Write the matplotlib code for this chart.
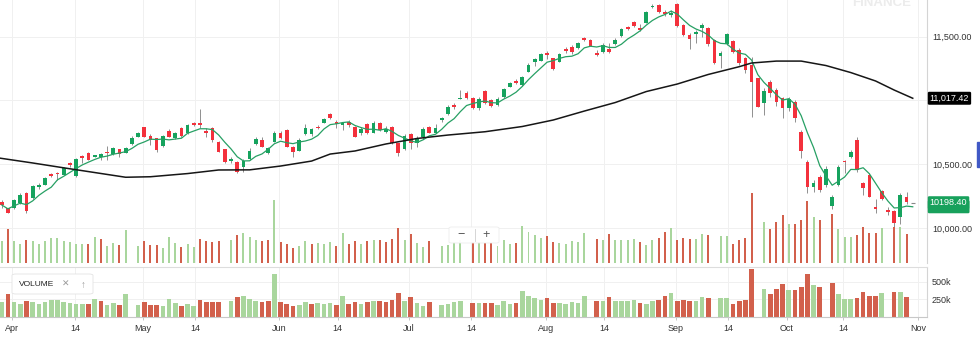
import numpy as np
import pandas as pd
import matplotlib
matplotlib.use("Agg")
import matplotlib.pyplot as plt
import matplotlib.transforms as mtransforms
from matplotlib.patches import FancyBboxPatch, Rectangle
from matplotlib.lines import Line2D

plt.rcParams["font.family"] = ["Liberation Sans", "DejaVu Sans"]

# daily OHLC, one entry per session (last one is the live, still-flat session)
opens = [10206, 10154, 10154, 10193, 10277, 10233, 10319, 10337, 10423, 10434,
         10416, 10507, 10408, 10565, 10585, 10559, 10559, 10598, 10580, 10617,
         10591, 10656, 10716, 10790, 10724, 10703, 10643, 10761, 10703, 10787,
         10742, 10821, 10821, 10763, 10782, 10677, 10617, 10523, 10520, 10476,
         10539, 10656, 10690, 10585, 10677, 10742, 10768, 10638, 10606, 10736,
         10737, 10795, 10826, 10891, 10834, 10805, 10834, 10795, 10742, 10813,
         10748, 10826, 10753, 10790, 10664, 10617, 10735, 10669, 10716, 10790,
         10748, 10847, 10894, 10962, 11012, 11056, 11019, 10938, 11074, 11004,
         10965, 11025, 11108, 11155, 11121, 11226, 11302, 11312, 11370, 11331,
         11305, 11401, 11422, 11409, 11490, 11474, 11375, 11383, 11401, 11440,
         11506, 11574, 11618, 11571, 11610, 11731, 11749, 11697, 11670, 11757,
         11592, 11513, 11519, 11566, 11571, 11474, 11349, 11443, 11466, 11396,
         11331, 11278, 11174, 10978, 11148, 11082, 11017, 10938, 10991, 10755,
         10520, 10319, 10402, 10337, 10173, 10337, 10528, 10554, 10690, 10350,
         10416, 10162, 10290, 10141, 10136, 10084, 10246, 10198.4]
highs = [10220, 10160, 10225, 10272, 10282, 10337, 10355, 10398, 10434, 10442,
         10481, 10520, 10546, 10572, 10596, 10575, 10585, 10643, 10638, 10622,
         10638, 10722, 10755, 10795, 10735, 10708, 10730, 10774, 10755, 10792,
         10815, 10834, 10931, 10782, 10790, 10682, 10622, 10559, 10525, 10539,
         10625, 10711, 10716, 10638, 10763, 10763, 10774, 10643, 10703, 10816,
         10787, 10805, 10860, 10899, 10847, 10834, 10847, 10800, 10795, 10826,
         10842, 10834, 10800, 10800, 10670, 10735, 10748, 10722, 10790, 10800,
         10816, 10873, 10965, 10978, 11082, 11077, 11025, 11025, 11082, 11014,
         11025, 11095, 11142, 11166, 11192, 11291, 11331, 11375, 11391, 11336,
         11375, 11422, 11435, 11461, 11500, 11482, 11396, 11448, 11453, 11487,
         11566, 11584, 11626, 11600, 11702, 11757, 11757, 11710, 11710, 11767,
         11597, 11527, 11553, 11605, 11579, 11479, 11391, 11527, 11474, 11409,
         11338, 11344, 11180, 11095, 11161, 11095, 11030, 11030, 11004, 10768,
         10533, 10376, 10416, 10486, 10259, 10494, 10533, 10611, 10711, 10363,
         10429, 10225, 10298, 10167, 10141, 10277, 10285, 10198.4]
lows = [10154, 10115, 10150, 10190, 10120, 10230, 10303, 10335, 10397, 10376,
        10412, 10481, 10400, 10507, 10530, 10555, 10533, 10533, 10575, 10559,
        10585, 10651, 10712, 10710, 10651, 10599, 10638, 10712, 10698, 10716,
        10738, 10803, 10782, 10716, 10677, 10594, 10507, 10507, 10429, 10442,
        10535, 10650, 10633, 10580, 10672, 10698, 10633, 10559, 10600, 10730,
        10722, 10780, 10820, 10852, 10782, 10768, 10795, 10710, 10729, 10737,
        10742, 10763, 10742, 10659, 10565, 10612, 10617, 10638, 10695, 10745,
        10744, 10834, 10890, 10931, 11009, 11009, 10930, 10925, 10972, 10952,
        10960, 11020, 11103, 11130, 11116, 11221, 11270, 11308, 11323, 11239,
        11300, 11375, 11365, 11404, 11466, 11425, 11349, 11370, 11370, 11435,
        11500, 11553, 11579, 11548, 11605, 11723, 11689, 11663, 11652, 11579,
        11506, 11401, 11448, 11500, 11427, 11286, 11252, 11438, 11370, 11278,
        11213, 10873, 10946, 10886, 11030, 10957, 10860, 10920, 10834, 10546,
        10272, 10285, 10285, 10324, 10147, 10330, 10429, 10546, 10442, 10259,
        10240, 10115, 10220, 10102, 10011, 10032, 10188, 10198.4]
closes = [10181, 10120, 10220, 10259, 10136, 10329, 10337, 10390, 10410, 10423,
          10468, 10491, 10539, 10552, 10533, 10572, 10578, 10585, 10625, 10580,
          10627, 10703, 10748, 10716, 10690, 10612, 10722, 10716, 10748, 10722,
          10808, 10808, 10805, 10748, 10690, 10599, 10520, 10544, 10442, 10525,
          10604, 10695, 10638, 10625, 10742, 10703, 10638, 10599, 10690, 10782,
          10774, 10782, 10855, 10860, 10816, 10821, 10808, 10716, 10776, 10748,
          10826, 10769, 10774, 10669, 10591, 10721, 10664, 10708, 10774, 10748,
          10782, 10860, 10952, 10946, 11022, 11022, 10938, 11014, 10983, 10957,
          11012, 11087, 11135, 11135, 11182, 11278, 11323, 11362, 11357, 11244,
          11365, 11388, 11383, 11453, 11474, 11430, 11357, 11435, 11383, 11474,
          11558, 11561, 11584, 11553, 11697, 11744, 11697, 11678, 11688, 11584,
          11513, 11480, 11540, 11592, 11443, 11291, 11375, 11521, 11383, 11291,
          11239, 11148, 10952, 11077, 11056, 10991, 10938, 11009, 10860, 10606,
          10324, 10355, 10298, 10460, 10240, 10481, 10518, 10598, 10455, 10311,
          10246, 10147, 10225, 10126, 10042, 10259, 10207, 10198.4]

# volume in thousands; None where the feed has no volume for the session
volume_k = [211, 330, 211, 188, 222, 211, 188, 211, 240, 240,
            211, 202, 185, 188, 188, 250, 230, 165, 197, 174,
            321, None, 165, 216, 174, 174, 150, 259, 197, 155,
            185, 160, 235, 216, 207, 211, None, 225, 278, 292,
            250, 221, 211, 225, 614, 207, 185, 150, 169, 211,
            188, 197, 185, 202, 169, 292, 185, 211, 185, 211,
            225, 225, 207, 235, 340, 225, 283, 192, 155, 211,
            None, 169, 178, 207, 225, None, 202, 202, 197, 197,
            165, 221, 188, 192, 363, 301, 273, 240, 264, 202,
            192, 188, 211, 202, 292, None, 230, 221, 283, 221,
            221, 221, 235, 202, 178, 225, 240, 301, 340, 221,
            240, 230, 230, 283, 273, None, 264, 264, 188, 225,
            240, 685, None, 400, 330, 400, 472, 378, 378, 425,
            605, 449, 425, None, 481, 330, 250, 250, 273, 354,
            297, 297, 340, None, 354, 354, 283, None]
# g = close above previous close, r = below, - = no volume
volume_dir = ("grggrggggg" "ggggrgrggr" "g-grrrgggr" "ggrrrr-grg" "ggrrgrrrgg"
              "rgggrgrrgr" "grrrrgrggr" "-gggg-rgrr" "gggrggggrr" "ggggg-rgrg"
              "gggrggrrgr" "rrggr-ggrr" "rr-grrrgrr" "rgr-rgggrr" "rrg-rgr-")

# long moving average, sampled along the session index
ma_long_at = [-0.3, 5, 10, 15, 20, 24, 30, 35, 40, 45, 50, 53, 57, 62, 67, 72,
              78, 84, 89, 94, 99, 104, 109, 114, 119, 121, 125, 129, 133, 137,
              141, 144, 147]
ma_long = [10548, 10510, 10472, 10435, 10398, 10402, 10427, 10455, 10456, 10486,
           10525, 10580, 10604, 10659, 10702, 10729, 10755, 10796, 10847, 10917,
           10984, 11070, 11129, 11204, 11265, 11294, 11309, 11309, 11274, 11219,
           11153, 11082, 11017.42]

price_ticks = [10000, 10500, 11000, 11500]
price_tick_labels = ["10,000.00", "10,500.00", "", "11,500.00"]
tick_labels = ["Apr", "14", "May", "14", "Jun", "14", "Jul", "14",
               "Aug", "14", "Sep", "14", "Oct", "14", "Nov"]
tick_pos = [1.74, 11.83, 22.8, 31.2, 44.75, 54.2, 65.7, 75.7,
            87.8, 97.2, 108.8, 117.2, 126.7, 135.8, 147.9]

UP = "#16a35e"
DOWN = "#f3313c"
WICK = "#7d7d7d"
VOL_UP = "#a9d69d"
VOL_DOWN = "#d2604c"
SMA_COLOR = "#27a064"
GRID = "#f0f0f0"
EDGE = "#d4d4d4"

o = np.array(opens, dtype=float)
h = np.array(highs, dtype=float)
l = np.array(lows, dtype=float)
c = np.array(closes, dtype=float)
vol = np.array(volume_k, dtype=float)
xs = np.arange(len(c))
sma5 = pd.Series(c).rolling(5, min_periods=1).mean().to_numpy()
up_vol = np.array([d == "g" for d in volume_dir])
vol_colors = np.where(up_vol, VOL_UP, VOL_DOWN)

W, H = 980, 343
fig = plt.figure(figsize=(W / 100, H / 100), dpi=100)
fig.patch.set_facecolor("white")

XLIM = (-0.274, 149.3)
ax = fig.add_axes([0, 1 - 263 / H, 927 / W, 263 / H])
axv = fig.add_axes([0, 1 - 317 / H, 927 / W, 50 / H])

# thin volume overlay along the bottom of the price panel
ov = ax.twinx()
ov.set_ylim(0, 2573)
ov.axis("off")
ov.bar(xs, vol, width=0.32, color=vol_colors, lw=0)

# ---- price panel ----
ax.set_xlim(*XLIM)
ax.set_ylim(9725.6, 11788)
for side in ("top", "left", "bottom"):
    ax.spines[side].set_visible(False)
ax.spines["right"].set_color(EDGE)
ax.spines["right"].set_linewidth(0.8)
ax.yaxis.tick_right()
ax.set_yticks(price_ticks)
ax.set_yticklabels(price_tick_labels)
ax.tick_params(axis="y", left=False, labelleft=False, right=True, labelright=True,
               length=0, pad=3.6, labelsize=6.5, labelcolor="#333333")
ax.set_xticks(tick_pos)
ax.tick_params(axis="x", length=0, labelbottom=False)
ax.grid(True, color=GRID, lw=0.7)
ax.set_axisbelow(True)

# candles
ax.vlines(xs, l, h, color=WICK, lw=0.6, zorder=2)
body_lo = np.minimum(o, c)
body_hi = np.maximum(o, c)
body_col = np.where(c >= o, UP, DOWN)
flat = body_hi - body_lo < 1
ax.bar(xs[~flat], (body_hi - body_lo)[~flat], bottom=body_lo[~flat], width=0.6,
       color=body_col[~flat], lw=0, zorder=2.5)
ax.hlines(c[flat], xs[flat] - 0.3, xs[flat] + 0.3, color="#888888", lw=0.8, zorder=2.5)

ax.plot(xs, sma5, color=SMA_COLOR, lw=0.9, zorder=3)
ax.plot(ma_long_at, ma_long, color="#161616", lw=1.1, zorder=3)

# value flags on the right edge
blend = mtransforms.blended_transform_factory(ax.transAxes, ax.transData)
flag = dict(transform=blend, ha="left", va="center", fontsize=6.5, color="white",
            clip_on=False)
ax.text(1.003, sma5[-1], f"{sma5[-1]:.2f}", zorder=6,
        bbox=dict(boxstyle="round,pad=0.22,rounding_size=0.15", fc="#18a15c", ec="none"),
        **flag)
ax.text(1.003, c[-1], f"{c[-1]:.2f}", zorder=7,
        bbox=dict(boxstyle="round,pad=0.22,rounding_size=0.15", fc="#18a15c", ec="none"),
        **flag)
ax.text(1.003, ma_long[-1], f"{ma_long[-1]:,.2f}", zorder=7,
        bbox=dict(boxstyle="round,pad=0.22,rounding_size=0.15", fc="#000000", ec="none"),
        **flag)

# ---- volume panel ----
axv.set_xlim(*XLIM)
axv.set_ylim(0, 709)
axv.bar(xs, vol, width=0.75, color=vol_colors, lw=0)
axv.spines["left"].set_visible(False)
axv.spines["top"].set_color("#dddddd")
axv.spines["bottom"].set_color("#c8c8c8")
axv.spines["right"].set_color(EDGE)
for s in axv.spines.values():
    s.set_linewidth(0.8)
axv.yaxis.tick_right()
axv.set_yticks([250, 500])
axv.set_yticklabels(["250k", "500k"])
axv.tick_params(axis="y", length=0, pad=3.4, labelsize=6.5, labelcolor="#333333")
axv.set_xticks(tick_pos)
axv.set_xticklabels(tick_labels)
axv.tick_params(axis="x", length=1.8, width=0.6, color="#bbbbbb", pad=3.0,
                labelsize=6.5, labelcolor="#333333")
axv.grid(True, color=GRID, lw=0.7)
axv.set_axisbelow(True)


def fx(px):
    return px / W


def fy(py):
    return 1 - py / H


# indicator tag in the volume panel
fig.add_artist(FancyBboxPatch((fx(12), fy(294)), fx(81), 20 / H,
                              boxstyle="round,pad=0,rounding_size=0.004",
                              transform=fig.transFigure, fc="white", ec="#e3e3e3",
                              lw=0.6, zorder=5))
fig.text(fx(19), fy(284.5), "VOLUME", fontsize=6, color="#222222", va="center", zorder=6)
fig.text(fx(66), fy(284.5), "\u2715", fontsize=6.5, color="#9a9a9a", va="center",
         ha="center", zorder=6)
fig.text(fx(83), fy(284.5), "\u2191", fontsize=7, color="#9a9a9a", va="center",
         ha="center", zorder=6)

# zoom control
fig.add_artist(FancyBboxPatch((fx(449), fy(243)), fx(50), 16 / H,
                              boxstyle="round,pad=0,rounding_size=0.003",
                              transform=fig.transFigure, fc="white", ec="#ececec",
                              lw=0.6, alpha=0.95, zorder=5))
fig.text(fx(461), fy(235), "\u2212", fontsize=9, color="#555555", ha="center",
         va="center", zorder=6)
fig.text(fx(486), fy(235), "+", fontsize=9, color="#555555", ha="center",
         va="center", zorder=6)
fig.add_artist(Line2D([fx(475), fx(475)], [fy(241), fy(229)], transform=fig.transFigure,
                      color="#cfcfcf", lw=0.6, zorder=6))

# watermark and scroll handle
fig.text(fx(852), fy(6), "FINANCE", fontsize=9.5, fontweight="bold", color="#ececec",
         va="baseline", zorder=1)
fig.add_artist(Rectangle((fx(977), fy(167)), fx(3), 25 / H, transform=fig.transFigure,
                         color="#4159c6", zorder=6))

fig.savefig("out.png", dpi=100)
